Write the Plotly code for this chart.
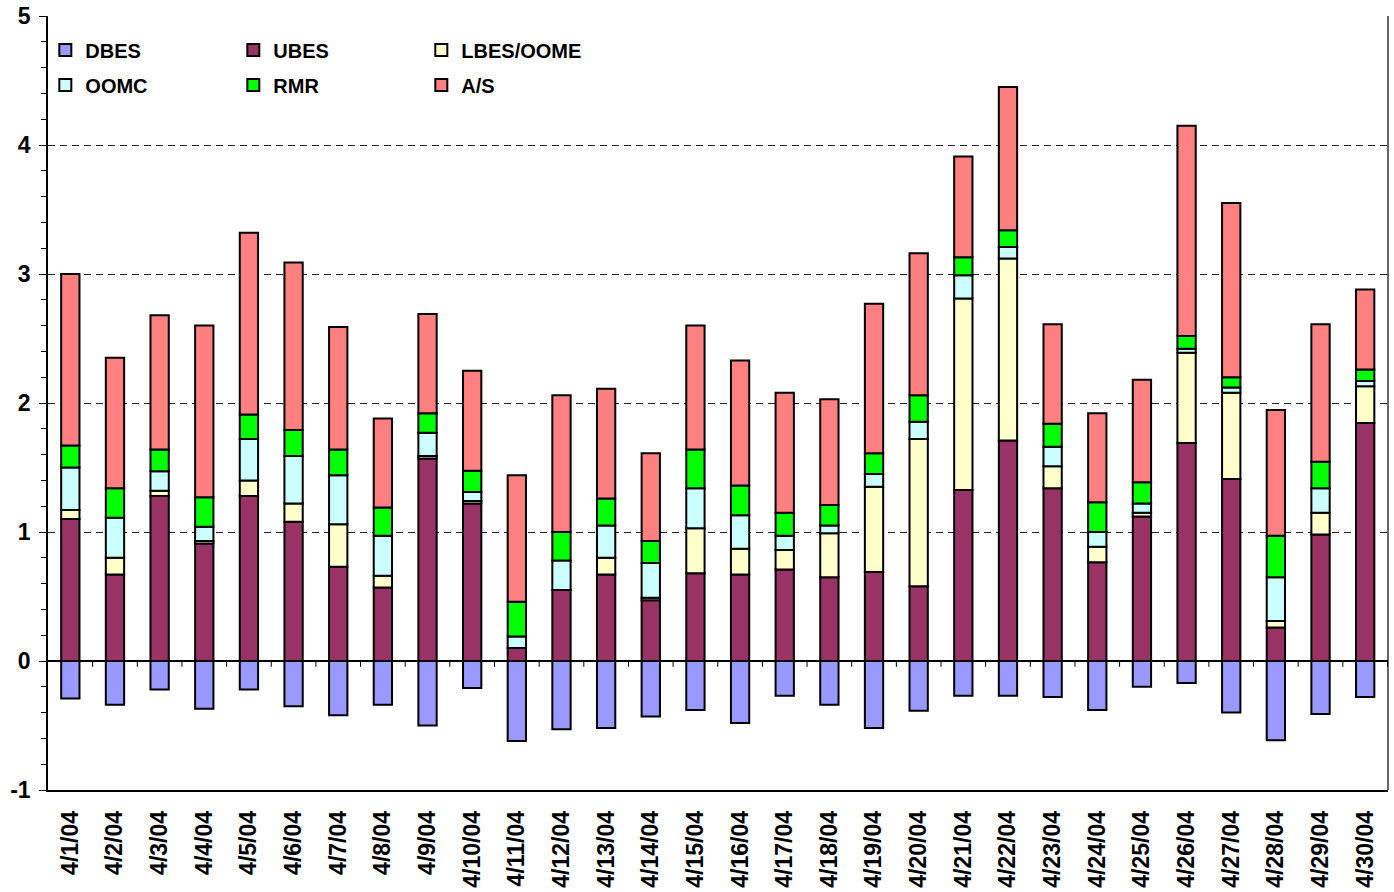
import plotly.graph_objects as go

dates = ["4/1/04", "4/2/04", "4/3/04", "4/4/04", "4/5/04", "4/6/04", "4/7/04", "4/8/04",
         "4/9/04", "4/10/04", "4/11/04", "4/12/04", "4/13/04", "4/14/04", "4/15/04",
         "4/16/04", "4/17/04", "4/18/04", "4/19/04", "4/20/04", "4/21/04", "4/22/04",
         "4/23/04", "4/24/04", "4/25/04", "4/26/04", "4/27/04", "4/28/04", "4/29/04", "4/30/04"]

dbes = [-0.29, -0.34, -0.22, -0.37, -0.22, -0.35, -0.42, -0.34, -0.50, -0.21,
        -0.62, -0.53, -0.52, -0.43, -0.38, -0.48, -0.27, -0.34, -0.52, -0.385,
        -0.27, -0.27, -0.28, -0.38, -0.20, -0.17, -0.40, -0.615, -0.41, -0.28]
ubes = [1.10, 0.67, 1.28, 0.91, 1.28, 1.08, 0.73, 0.57, 1.57, 1.22,
        0.10, 0.55, 0.67, 0.47, 0.68, 0.67, 0.71, 0.65, 0.69, 0.58,
        1.325, 1.71, 1.34, 0.765, 1.12, 1.69, 1.41, 0.26, 0.98, 1.845]
lbes_oome = [0.07, 0.13, 0.04, 0.02, 0.12, 0.14, 0.33, 0.09, 0.02, 0.02,
             0.0, 0.0, 0.13, 0.02, 0.35, 0.20, 0.15, 0.34, 0.66, 1.14,
             1.485, 1.41, 0.17, 0.12, 0.03, 0.70, 0.67, 0.05, 0.17, 0.285]
oomc = [0.33, 0.31, 0.15, 0.11, 0.32, 0.37, 0.38, 0.31, 0.18, 0.07,
        0.09, 0.23, 0.25, 0.27, 0.31, 0.26, 0.11, 0.06, 0.10, 0.135,
        0.18, 0.09, 0.15, 0.115, 0.07, 0.03, 0.04, 0.34, 0.19, 0.04]
rmr = [0.17, 0.23, 0.17, 0.23, 0.19, 0.20, 0.20, 0.22, 0.15, 0.165,
       0.27, 0.22, 0.21, 0.17, 0.30, 0.23, 0.18, 0.16, 0.16, 0.205,
       0.14, 0.13, 0.18, 0.23, 0.165, 0.10, 0.08, 0.32, 0.205, 0.09]
a_s = [1.33, 1.01, 1.04, 1.33, 1.41, 1.30, 0.95, 0.69, 0.77, 0.775,
       0.98, 1.06, 0.85, 0.68, 0.96, 0.97, 0.93, 0.82, 1.16, 1.10,
       0.78, 1.11, 0.77, 0.69, 0.795, 1.63, 1.35, 0.975, 1.065, 0.62]

y_tick_vals = [-1, 0, 1, 2, 3, 4, 5]
y_tick_text = ["-1", "0", "1", "2", "3", "4", "5"]

series = [
    ("DBES", dbes, "#9999FF", "legend"),
    ("UBES", ubes, "#993366", "legend"),
    ("LBES/OOME", lbes_oome, "#FFFFCC", "legend"),
    ("OOMC", oomc, "#CCFFFF", "legend2"),
    ("RMR", rmr, "#00FF00", "legend2"),
    ("A/S", a_s, "#FF8080", "legend2"),
]

FONT = "Liberation Sans"

fig = go.Figure()
for name, vals, color, leg in series:
    fig.add_trace(go.Bar(
        x=dates, y=vals, name=name, legend=leg,
        marker=dict(color=color, line=dict(color="black", width=2)),
    ))

# tick marks on the zero line between categories
shapes = []
for i in range(len(dates)):
    shapes.append(dict(type="line", xref="x", yref="y", x0=i + 0.5, x1=i + 0.5,
                       y0=0, y1=-0.045, line=dict(color="black", width=1)))
shapes.append(dict(type="line", xref="paper", yref="paper", x0=1, x1=1, y0=0, y1=1,
                   line=dict(color="black", width=1.2)))

legend_common = dict(
    orientation="h", xanchor="left", yanchor="middle", x=-0.002,
    entrywidth=143, entrywidthmode="pixels", itemwidth=30,
    font=dict(family=FONT, size=20, color="black", weight="bold"),
    bgcolor="rgba(0,0,0,0)", itemclick=False, itemdoubleclick=False,
    tracegroupgap=0,
)

fig.update_layout(
    width=1394, height=892,
    margin=dict(l=48, r=6, t=16, b=102, autoexpand=False),
    paper_bgcolor="white", plot_bgcolor="white",
    barmode="relative", bargap=0.59,
    showlegend=True,
    legend=dict(y=0.956, **legend_common),
    legend2=dict(y=0.911, **legend_common),
    font=dict(family=FONT, color="black"),
    shapes=shapes,
    xaxis=dict(
        type="category", tickangle=-90, showline=True, linecolor="black", linewidth=1.5,
        ticks="", showgrid=False, automargin=False, ticklabelstandoff=10,
        tickfont=dict(family=FONT, size=23, color="black", weight="bold"),
    ),
    yaxis=dict(
        range=[-1, 5], tickvals=y_tick_vals, ticktext=y_tick_text,
        showline=True, linecolor="black", linewidth=1.5, automargin=False,
        showgrid=True, gridcolor="#222222", griddash="7px,5px", gridwidth=1,
        zeroline=True, zerolinecolor="black", zerolinewidth=1.5,
        ticks="outside", ticklen=7, tickcolor="black", ticklabelstandoff=4,
        minor=dict(dtick=0.2, ticks="outside", ticklen=5, tickcolor="black", showgrid=False),
        tickfont=dict(family=FONT, size=23, color="black", weight="bold"),
    ),
)

fig.write_html("out.html", post_script="document.body.style.margin='0';",
               config={"displayModeBar": False})
